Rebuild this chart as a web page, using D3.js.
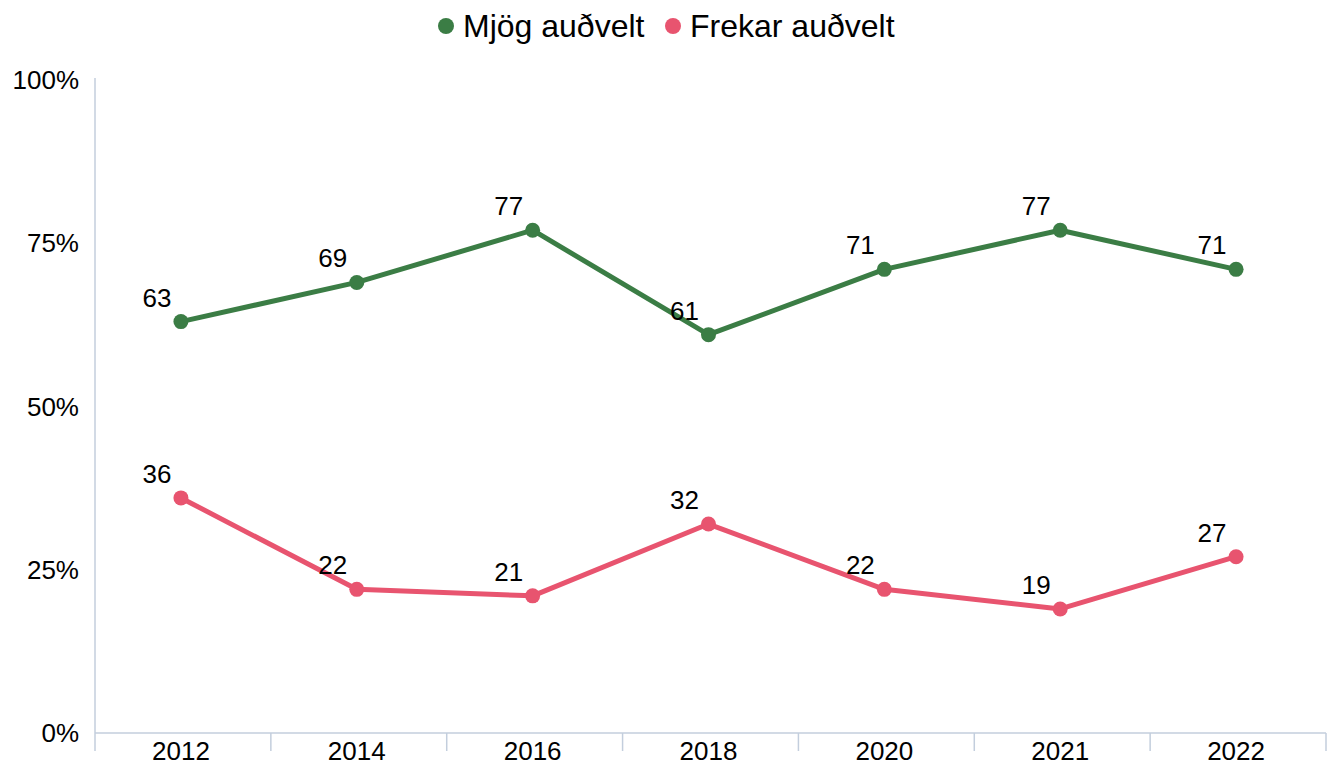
<!DOCTYPE html>
<html>
<head>
<meta charset="utf-8">
<script src="https://cdn.jsdelivr.net/npm/d3@7"></script>
<style>
  body { margin: 0; background: #fff; }
  svg { display: block; font-family: "Liberation Sans", Arial, sans-serif; }
</style>
</head>
<body>
<div id="chart"></div>
<script>
  var years = ['2012', '2014', '2016', '2018', '2020', '2021', '2022'];
  var mjog = [63, 69, 77, 61, 71, 77, 71];
  var frekar = [36, 22, 21, 32, 22, 19, 27];
  var yTicks = [0, 25, 50, 75, 100];
  var seriesNames = ['Mjög auðvelt', 'Frekar auðvelt'];
  var seriesColors = ['#3b7d45', '#e8546f'];

  var width = 1337, height = 767;
  var margin = {top: 80, right: 11, bottom: 34, left: 95};

  var svg = d3.select('#chart').append('svg')
    .attr('width', width)
    .attr('height', height);

  var x = d3.scaleBand()
    .domain(years)
    .range([margin.left, width - margin.right]);

  var y = d3.scaleLinear()
    .domain([0, 100])
    .range([height - margin.bottom, margin.top]);

  var axisColor = '#c3cedd';

  // y axis line
  svg.append('line')
    .attr('x1', margin.left).attr('x2', margin.left)
    .attr('y1', y(100) - 2).attr('y2', y(0) + 18)
    .attr('stroke', axisColor).attr('stroke-width', 1.5);

  // x axis line + category ticks
  svg.append('line')
    .attr('x1', margin.left).attr('x2', width - margin.right)
    .attr('y1', y(0)).attr('y2', y(0))
    .attr('stroke', axisColor).attr('stroke-width', 1.5);

  var bounds = years.map(function(d) { return x(d); }).concat([x(years[years.length - 1]) + x.bandwidth()]);
  svg.selectAll('.xtick')
    .data(bounds.slice(1)).enter()
    .append('line')
    .attr('x1', function(d) { return d; }).attr('x2', function(d) { return d; })
    .attr('y1', y(0)).attr('y2', y(0) + 18)
    .attr('stroke', axisColor).attr('stroke-width', 1.5);

  // tick labels
  svg.selectAll('.ylab')
    .data(yTicks).enter()
    .append('text')
    .attr('x', margin.left - 16)
    .attr('y', function(d) { return y(d) + 9; })
    .attr('text-anchor', 'end')
    .attr('font-size', 26)
    .attr('fill', '#000')
    .text(function(d) { return d + '%'; });

  svg.selectAll('.xlab')
    .data(years).enter()
    .append('text')
    .attr('x', function(d) { return x(d) + x.bandwidth() / 2 - 2; })
    .attr('y', y(0) + 27)
    .attr('text-anchor', 'middle')
    .attr('font-size', 26)
    .attr('fill', '#000')
    .text(function(d) { return d; });

  var line = d3.line()
    .x(function(d, i) { return x(years[i]) + x.bandwidth() / 2 - 2; })
    .y(function(d) { return y(d); });

  [mjog, frekar].forEach(function(values, s) {
    var g = svg.append('g');
    g.append('path')
      .datum(values)
      .attr('d', line)
      .attr('fill', 'none')
      .attr('stroke', seriesColors[s])
      .attr('stroke-width', 5)
      .attr('stroke-linejoin', 'round');

    g.selectAll('circle')
      .data(values).enter()
      .append('circle')
      .attr('cx', function(d, i) { return x(years[i]) + x.bandwidth() / 2 - 2; })
      .attr('cy', function(d) { return y(d); })
      .attr('r', 7.5)
      .attr('fill', seriesColors[s]);

    g.selectAll('text')
      .data(values).enter()
      .append('text')
      .attr('x', function(d, i) { return x(years[i]) + x.bandwidth() / 2 - 26; })
      .attr('y', function(d) { return y(d) - 15; })
      .attr('text-anchor', 'middle')
      .attr('font-size', 26)
      .attr('fill', '#000')
      .text(function(d) { return d; });
  });

  // legend
  var legend = svg.append('g').attr('transform', 'translate(446,26)');
  var legendX = [0, 227];
  seriesNames.forEach(function(name, i) {
    var item = legend.append('g').attr('transform', 'translate(' + legendX[i] + ',0)');
    item.append('circle').attr('r', 8).attr('fill', seriesColors[i]);
    item.append('text')
      .attr('x', 17)
      .attr('y', 11)
      .attr('font-size', 32)
      .attr('fill', '#000')
      .text(name);
  });
</script>
</body>
</html>
